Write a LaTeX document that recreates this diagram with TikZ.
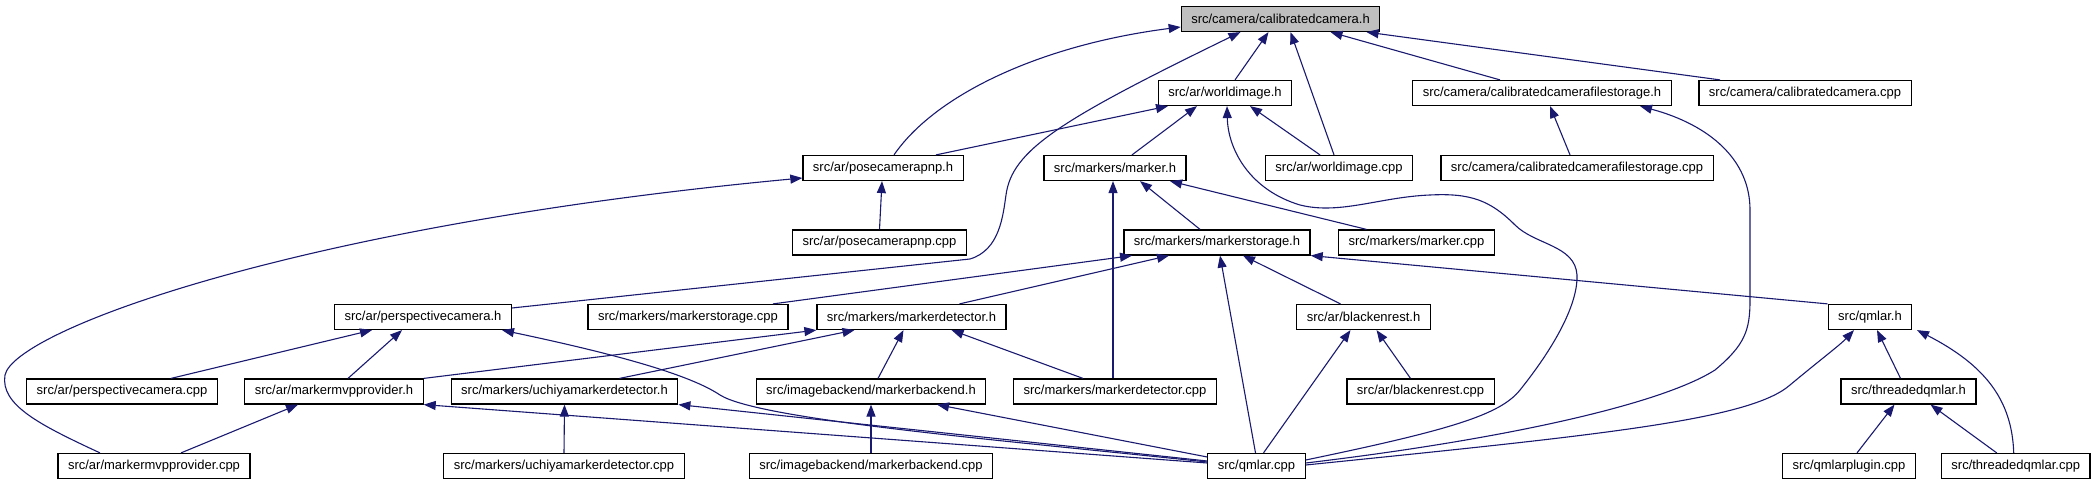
\documentclass[tikz,border=0pt]{standalone}
\usepackage{fontspec}
\setmainfont{Liberation Sans}
\usetikzlibrary{arrows.meta,calc}
\definecolor{IncNavy}{HTML}{191970}
\definecolor{IncGray}{HTML}{BFBFBF}

\begin{document}
\begin{tikzpicture}[x=0.5pt,y=-0.5pt,
    filebox/.style={draw=black,fill=white,line width=0.6pt,minimum height=12.5pt,inner xsep=5pt,inner ysep=0pt,font=\fontsize{6.5}{7.8}\selectfont},
    incl/.style={-{Triangle[length=6pt,width=4.5pt]},IncNavy,line width=0.55pt}]
    \useasboundingbox (0,0) rectangle (2096,485);
    \node[filebox,fill=IncGray] (cc_h) at (1280.5,19) {src/camera/calibratedcamera.h};
    \node[filebox] (wimg_h) at (1225,93) {src/ar/worldimage.h};
    \node[filebox] (ccfs_h) at (1542,93) {src/camera/calibratedcamerafilestorage.h};
    \node[filebox] (cc_cpp) at (1805,93) {src/camera/calibratedcamera.cpp};
    \node[filebox] (pose_h) at (883,168) {src/ar/posecamerapnp.h};
    \node[filebox] (marker_h) at (1115,168) {src/markers/marker.h};
    \node[filebox] (wimg_cpp) at (1339,168) {src/ar/worldimage.cpp};
    \node[filebox] (ccfs_cpp) at (1577,168) {src/camera/calibratedcamerafilestorage.cpp};
    \node[filebox] (pose_cpp) at (879.5,242.5) {src/ar/posecamerapnp.cpp};
    \node[filebox] (mstore_h) at (1217,242.5) {src/markers/markerstorage.h};
    \node[filebox] (marker_cpp) at (1416.5,242.5) {src/markers/marker.cpp};
    \node[filebox] (persp_h) at (423,317) {src/ar/perspectivecamera.h};
    \node[filebox] (mstore_cpp) at (688,317) {src/markers/markerstorage.cpp};
    \node[filebox] (mdet_h) at (911.5,317) {src/markers/markerdetector.h};
    \node[filebox] (blacken_h) at (1363.5,317) {src/ar/blackenrest.h};
    \node[filebox] (qmlar_h) at (1870,317) {src/qmlar.h};
    \node[filebox] (persp_cpp) at (122,391.5) {src/ar/perspectivecamera.cpp};
    \node[filebox] (mmvp_h) at (334,391.5) {src/ar/markermvpprovider.h};
    \node[filebox] (uchiya_h) at (564.5,391.5) {src/markers/uchiyamarkerdetector.h};
    \node[filebox] (mback_h) at (871,391.5) {src/imagebackend/markerbackend.h};
    \node[filebox] (mdet_cpp) at (1115,391.5) {src/markers/markerdetector.cpp};
    \node[filebox] (blacken_cpp) at (1420.5,391.5) {src/ar/blackenrest.cpp};
    \node[filebox] (tqmlar_h) at (1908.5,391.5) {src/threadedqmlar.h};
    \node[filebox] (mmvp_cpp) at (154,466) {src/ar/markermvpprovider.cpp};
    \node[filebox] (uchiya_cpp) at (564,466) {src/markers/uchiyamarkerdetector.cpp};
    \node[filebox] (mback_cpp) at (871,466) {src/imagebackend/markerbackend.cpp};
    \node[filebox] (qmlar_cpp) at (1256.5,466) {src/qmlar.cpp};
    \node[filebox] (plugin_cpp) at (1849,466) {src/qmlarplugin.cpp};
    \node[filebox] (tqmlar_cpp) at (2015.7,466) {src/threadedqmlar.cpp};

    \foreach \a/\u/\b/\v in {
      wimg_h.north/{10,0}/cc_h.south/{-12,0}, wimg_cpp.north/{-5,0}/cc_h.south/{10,0},
      ccfs_h.north/{-42,0}/cc_h.south/{50,0}, cc_cpp.north/{-85,0}/cc_h.south/{86,0},
      pose_h.north/{53,0}/wimg_h.south/{-57,0}, marker_h.north/{17,0}/wimg_h.south/{-28,0},
      wimg_cpp.north/{-19,0}/wimg_h.south/{25,0}, ccfs_cpp.north/{-7,0}/ccfs_h.south/{8,0},
      pose_cpp.north/{0,0}/pose_h.south/{-1,0},
      mstore_h.north/{-17,0}/marker_h.south/{25,0}, marker_cpp.north/{-50,0}/marker_h.south/{55,0},
      mdet_cpp.north/{-2,0}/marker_h.south/{-2,0},
      mstore_cpp.north/{85,0}/mstore_h.south/{-85,0}, mdet_h.north/{48,0}/mstore_h.south/{-48,0},
      blacken_h.north/{-23,0}/mstore_h.south/{26,0}, qmlar_cpp.north/{-1,0}/mstore_h.south/{3,0},
      qmlar_h.north west/{0,0}/mstore_h.south east/{0,0},
      persp_cpp.north/{49,0}/persp_h.south/{-51,0}, mmvp_h.north/{14,0}/persp_h.south/{-21,0},
      mmvp_h.north east/{0,0}/mdet_h.south west/{0,0}, uchiya_h.north/{55,0}/mdet_h.south/{-57,0},
      mback_h.north/{7,0}/mdet_h.south/{-8,0}, mdet_cpp.north/{-32,0}/mdet_h.south/{40,0},
      qmlar_cpp.north/{7,0}/blacken_h.south/{-13,0}, blacken_cpp.north/{-10,0}/blacken_h.south/{13,0},
      tqmlar_h.north/{-8,0}/qmlar_h.south/{7,0},
      mmvp_cpp.north/{27,0}/mmvp_h.south/{-36,0}, qmlar_cpp.west/{0,-3}/mmvp_h.south east/{0,0},
      uchiya_cpp.north/{0,0}/uchiya_h.south/{0,0}, qmlar_cpp.west/{0,-5}/uchiya_h.south east/{0,0},
      mback_cpp.north/{0,0}/mback_h.south/{0,0}, qmlar_cpp.west/{0,-9}/mback_h.south/{66,0},
      plugin_cpp.north/{8,0}/tqmlar_h.south/{-14,0}, tqmlar_cpp.north/{-19,0}/tqmlar_h.south/{22,0}}
      \draw[incl] ($(\a)+(\u)$) -- ($(\b)+(\v)$);

    \draw[incl] ($(pose_h.north)+(11,0)$) .. controls (935,95) and (1040,45) .. ($(cc_h.west)+(0,8)$);
    \draw[incl] ($(persp_h.east)+(0,-9)$) -- (970,259) .. controls (1000,250) and (1003,215) .. (1006,195)
      .. controls (1012,150) and (1060,120) .. ($(cc_h.south)+(-40,0)$);
    \draw[incl] ($(qmlar_cpp.east)+(0,-6)$) .. controls (1450,430) and (1500,415) .. (1520,390)
      .. controls (1560,340) and (1578,300) .. (1577,275) .. controls (1575,245) and (1535,245) .. (1515,225)
      .. controls (1490,200) and (1470,193) .. (1430,195) .. controls (1380,197) and (1340,215) .. (1300,205)
      .. controls (1250,190) and (1228,150) .. ($(wimg_h.south)+(2,0)$);
    \draw[incl] ($(qmlar_cpp.east)+(0,-3)$) .. controls (1500,440) and (1660,405) .. (1715,370)
      .. controls (1745,345) and (1750,330) .. (1750,300) -- (1750,210)
      .. controls (1750,160) and (1710,125) .. ($(ccfs_h.south)+(98,0)$);
    \draw[incl] ($(mmvp_cpp.north)+(-54,0)$) .. controls (40,425) and (0,405) .. (5,375)
      .. controls (15,330) and (300,225) .. ($(pose_h.west)+(0,10)$);
    \draw[incl] ($(qmlar_cpp.west)+(0,-4)$) .. controls (1000,440) and (760,420) .. (720,395)
      .. controls (690,375) and (620,355) .. ($(persp_h.south)+(79,0)$);
    \draw[incl] ($(qmlar_cpp.east)+(0,-1)$) .. controls (1600,435) and (1750,420) .. (1790,385)
      .. controls (1820,360) and (1840,345) .. ($(qmlar_h.south)+(-16,0)$);
    \draw[incl] ($(tqmlar_cpp.north)+(-2,0)$) .. controls (2012,400) and (1985,365) .. ($(qmlar_h.south)+(47,0)$);
\end{tikzpicture}
\end{document}
